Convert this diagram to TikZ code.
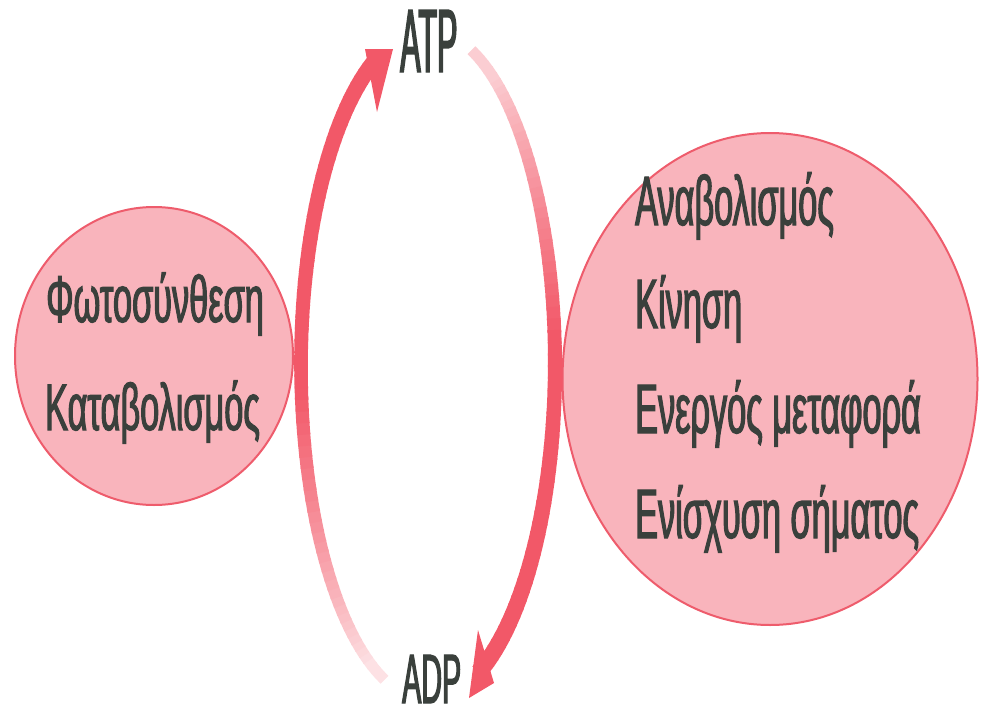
\documentclass[tikz,border=0pt]{standalone}
\usepackage{fontspec}
\newfontfamily\grl{Liberation Sans}[FakeStretch=0.52,FakeBold=1.6]
\newfontfamily\grr{Liberation Sans}[FakeStretch=0.49,FakeBold=1.6]
\newfontfamily\atpf{Liberation Sans}[FakeStretch=0.34,FakeBold=1.6]
\newfontfamily\adpf{Liberation Sans}[FakeStretch=0.41,FakeBold=1.6]
\usetikzlibrary{shapes.geometric}
\definecolor{arcred}{RGB}{242,88,104}
\definecolor{blobfill}{RGB}{249,180,188}
\definecolor{blobline}{RGB}{238,92,108}
\definecolor{txt}{RGB}{58,64,60}
\begin{document}
\begin{tikzpicture}[x=1pt,y=-1pt,
  blob/.style={ellipse, draw=blobline, line width=2pt, fill=blobfill, inner sep=0pt},
  lbl/.style={anchor=base west, inner sep=0pt, text=txt, font=\grl\fontsize{66}{66}\selectfont},
  rlbl/.style={anchor=base west, inner sep=0pt, text=txt, font=\grr\fontsize{70}{70}\selectfont},
  atplbl/.style={anchor=base west, inner sep=0pt, text=txt, font=\atpf\fontsize{90}{90}\selectfont},
  adplbl/.style={anchor=base west, inner sep=0pt, text=txt, font=\adpf\fontsize{70}{70}\selectfont},
  tipfill/.style={fill=arcred, draw=none}
  ]
\useasboundingbox (0,0) rectangle (988,720);
% blobs
\node[blob, minimum width=278pt, minimum height=298pt] (L) at (154,356) {};
\node[blob, minimum width=415pt, minimum height=492pt] (R) at (770,379) {};
% left arc (ADP -> ATP)
\foreach \i in {0,...,66} {
  \pgfmathsetmacro\ta{110+2*\i}
  \pgfmathsetmacro\tb{\ta+2.4}
  \pgfmathsetmacro\p{min(100,18+max(0,\ta-116)*1.4)}
  \pgfmathsetmacro\w{11+(\ta-110)/133*5}
  \draw[line width=\w pt, draw=arcred!\p!white] ({428+127*cos(\ta)},{365+335*sin(\ta)}) arc[start angle=\ta, end angle=\tb, x radius=127, y radius=335];
}
% right arc (ATP -> ADP)
\foreach \i in {0,...,67} {
  \pgfmathsetmacro\ta{290+2*\i}
  \pgfmathsetmacro\tb{\ta+2.4}
  \pgfmathsetmacro\p{min(100,30+max(0,\ta-300)*1.3)}
  \pgfmathsetmacro\w{11+(\ta-290)/135*6}
  \draw[line width=\w pt, draw=arcred!\p!white] ({428+127*cos(\ta)},{365+335*sin(\ta)}) arc[start angle=\ta, end angle=\tb, x radius=127, y radius=335];
}
% arrow heads
\coordinate (lt1) at (365,49);
\coordinate (lt2) at (393,49);
\coordinate (lt3) at (377,112);
\fill[tipfill] (lt1) -- (lt2) -- (lt3) -- cycle;
\coordinate (rt1) at (478,630);
\coordinate (rt2) at (469,698);
\coordinate (rt3) at (494,683);
\fill[tipfill] (rt1) -- (rt2) -- (rt3) -- cycle;
% labels
\node[atplbl] (atp) at (400,72) {ATP};
\node[adplbl] (adp) at (402,703) {ADP};
\node[lbl] (l1) at (46,322) {Φωτοσύνθεση};
\node[lbl] (l2) at (45,430) {Καταβολισμός};
\node[rlbl] (r1) at (635,225) {Αναβολισμός};
\node[rlbl] (r2) at (635,328) {Κίνηση};
\node[rlbl] (r3) at (635,433) {Ενεργός μεταφορά};
\node[rlbl] (r4) at (635,538) {Ενίσχυση σήματος};
\end{tikzpicture}
\end{document}
